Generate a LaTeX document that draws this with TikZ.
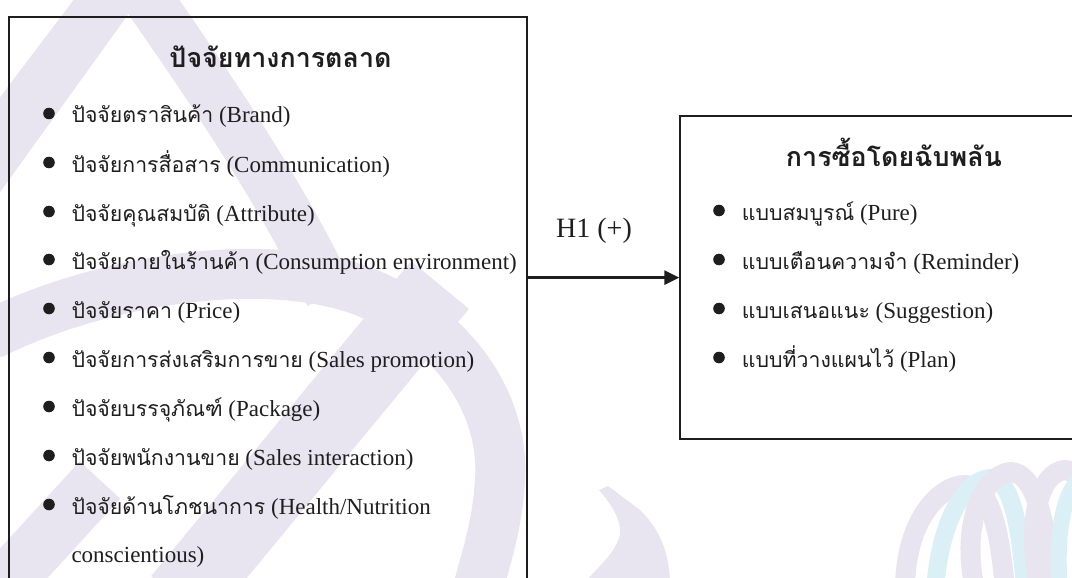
\documentclass[tikz,border=0pt]{standalone}
\usepackage{fontspec}
\setmainfont{Liberation Serif}
\newfontfamily\thai[Script=Thai,Scale=0.925]{Loma}
\usetikzlibrary{arrows.meta}

\definecolor{wmlav}{HTML}{E8E4F0}
\definecolor{wmcyan}{HTML}{DAF0F6}
\definecolor{ink}{HTML}{1E1E1E}

\tikzset{
  frame/.style={draw=ink, line width=2pt, inner sep=0pt, anchor=north west},
  itemtext/.style={anchor=base west, inner sep=0pt, text=ink,
    font=\fontsize{23}{28}\selectfont},
  heading/.style={anchor=base, inner sep=0pt, text=ink,
    font=\fontsize{29}{34}\selectfont\thai\bfseries},
  dot/.style={fill=ink},
  band/.style={draw=wmlav, line cap=butt},
  ribbon/.style={draw=wmcyan, line cap=butt},
}

\begin{document}
\begin{tikzpicture}[x=1pt,y=-1pt]
\useasboundingbox (0,0) rectangle (1072,578);
\clip (0,0) rectangle (1072,578);

% faint background emblem
\fill[wmlav] (75,-2) -- (140,-2) -- (-2,195) -- (-2,100) -- cycle;
\draw[band, line width=50pt] (135,-20) .. controls (205,80) and (280,190) .. (330,295);
\draw[band, line width=50pt] (-10,335) .. controls (100,280) and (260,255) .. (360,290)
   .. controls (450,325) and (505,400) .. (500,480) .. controls (497,530) and (485,560) .. (475,600);
\draw[band, line width=75pt] (180,600) -- (440,285);
\draw[band, line width=55pt] (-10,600) -- (100,480);
\fill[wmlav] (599,490) .. controls (612,505) and (621,520) .. (620,533)
   .. controls (618,550) and (600,565) .. (587,580) -- (670,580)
   .. controls (668,550) and (660,530) .. (640,510) -- (608,486) -- cycle;
\draw[band, line width=20pt] (905,590) .. controls (905,520) and (940,485) .. (965,485)
   .. controls (990,485) and (1000,530) .. (1005,590);
\draw[ribbon, line width=18pt] (935,590) .. controls (940,520) and (965,480) .. (990,478)
   .. controls (1010,478) and (1020,520) .. (1025,590);
\draw[band, line width=20pt] (975,590) .. controls (960,520) and (985,475) .. (1010,472)
   .. controls (1035,472) and (1045,520) .. (1055,590);
\draw[band, line width=20pt] (1040,590) .. controls (1025,520) and (1040,472) .. (1065,470)
   .. controls (1085,470) and (1090,520) .. (1095,590);
\draw[ribbon, line width=16pt] (1060,590) .. controls (1055,530) and (1065,490) .. (1080,480);

% two construct boxes
\node[frame, minimum width=517.8pt, minimum height=590pt] (mkt) at (8,16) {};
\node[frame, minimum width=430pt, minimum height=323.3pt] (imp) at (679.3,115) {};

% left construct
\node[heading] (mktT) at (280.5,68) {ปัจจัยทางการตลาด};
\foreach \yy in {123,172,221,269,318,367,416,465,514}
  \fill[dot] (49,\yy-9.5) circle (5.8);
\node[itemtext] (m1) at (71.3,123) {{\thai ปัจจัยตราสินค้า} (Brand)};
\node[itemtext] (m2) at (71.3,172) {{\thai ปัจจัยการสื่อสาร} (Communication)};
\node[itemtext] (m3) at (71.3,221) {{\thai ปัจจัยคุณสมบัติ} (Attribute)};
\node[itemtext] (m4) at (71.3,269) {{\thai ปัจจัยภายในร้านค้า} (Consumption environment)};
\node[itemtext] (m5) at (71.3,318) {{\thai ปัจจัยราคา} (Price)};
\node[itemtext] (m6) at (71.3,367) {{\thai ปัจจัยการส่งเสริมการขาย} (Sales promotion)};
\node[itemtext] (m7) at (71.3,416) {{\thai ปัจจัยบรรจุภัณฑ์} (Package)};
\node[itemtext] (m8) at (71.3,465) {{\thai ปัจจัยพนักงานขาย} (Sales interaction)};
\node[itemtext] (m9) at (71.3,514) {{\thai ปัจจัยด้านโภชนาการ} (Health/Nutrition};
\node[itemtext] (m9b) at (71.3,562) {conscientious)};

% right construct
\node[heading] (impT) at (894,166) {การซื้อโดยฉับพลัน};
\foreach \yy in {220,269,318,367}
  \fill[dot] (719,\yy-9.5) circle (5.8);
\node[itemtext] (i1) at (741.7,220) {{\thai แบบสมบูรณ์} (Pure)};
\node[itemtext] (i2) at (741.7,269) {{\thai แบบเตือนความจำ} (Reminder)};
\node[itemtext] (i3) at (741.7,318) {{\thai แบบเสนอแนะ} (Suggestion)};
\node[itemtext] (i4) at (741.7,367) {{\thai แบบที่วางแผนไว้} (Plan)};

% hypothesised path
\draw[draw=ink, line width=2.6pt, -{Triangle[length=15pt,width=14pt]}]
  (imp.west -| mkt.east) -- (imp.west);
\node[anchor=base west, inner sep=0pt, text=ink, font=\fontsize{28}{32}\selectfont]
  (hyp) at (556,237) {H1 (+)};
\end{tikzpicture}
\end{document}
